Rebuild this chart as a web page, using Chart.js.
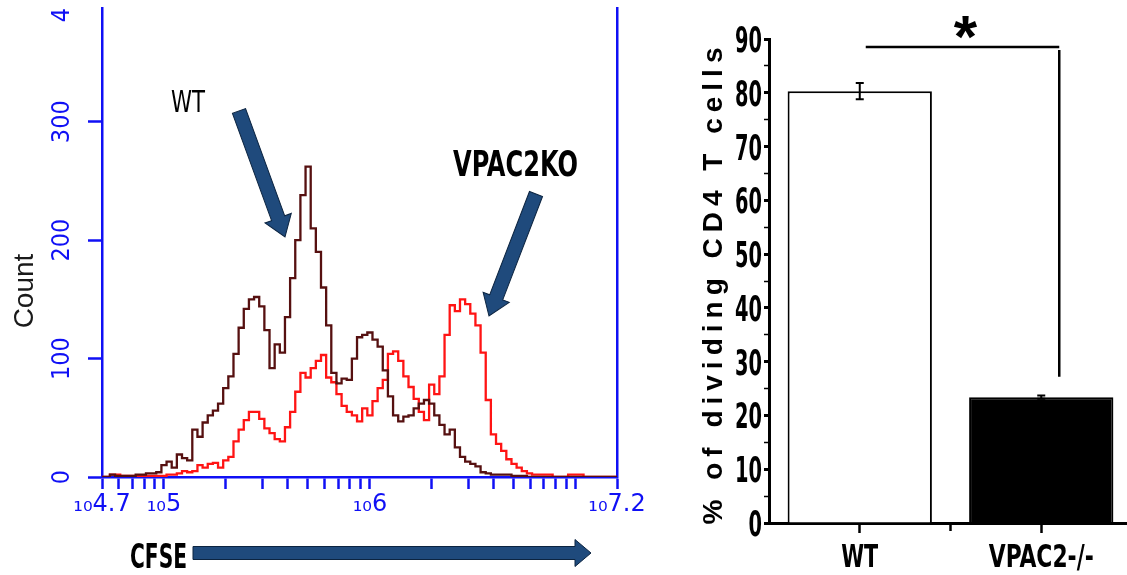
<!DOCTYPE html>
<html>
<head>
<meta charset="utf-8">
<script src="https://cdn.jsdelivr.net/npm/chart.js@4.4.1/dist/chart.umd.min.js"></script>
<style>
	html, body { margin: 0; padding: 0; background: #fff; overflow: hidden; }
	body { width: 1127px; height: 575px; position: relative; }
	#histWrap { position: absolute; left: 0; top: 0; width: 650px; height: 575px; }
	#barWrap { position: absolute; left: 680px; top: 0; width: 452px; height: 575px; }
</style>
</head>
<body>
<div id="histWrap"><canvas id="histChart"></canvas></div>
<div id="barWrap"><canvas id="barChart"></canvas></div>
<script>
// CFSE channel positions (log10 of intensity)
const cfseExponents = [
	4.700, 4.725, 4.750, 4.775, 4.800, 4.825, 4.850, 4.875, 4.900, 4.925,
	4.950, 4.975, 5.000, 5.025, 5.050, 5.075, 5.100, 5.125, 5.150, 5.175,
	5.200, 5.225, 5.250, 5.275, 5.300, 5.325, 5.350, 5.375, 5.400, 5.425,
	5.450, 5.475, 5.500, 5.525, 5.550, 5.575, 5.600, 5.625, 5.650, 5.675,
	5.700, 5.725, 5.750, 5.775, 5.800, 5.825, 5.850, 5.875, 5.900, 5.925,
	5.950, 5.975, 6.000, 6.025, 6.050, 6.075, 6.100, 6.125, 6.150, 6.175,
	6.200, 6.225, 6.250, 6.275, 6.300, 6.325, 6.350, 6.375, 6.400, 6.425,
	6.450, 6.475, 6.500, 6.525, 6.550, 6.575, 6.600, 6.625, 6.650, 6.675,
	6.700, 6.725, 6.750, 6.775, 6.800, 6.825, 6.850, 6.875, 6.900, 6.925,
	6.950, 6.975, 7.000, 7.025, 7.050, 7.075, 7.100, 7.125, 7.150, 7.175,
	7.200
];

const wtCounts = [
	0, 0, 2, 1, 1, 1, 1, 2, 2, 3,
	3, 4, 10, 13, 8, 19, 16, 14, 40, 34,
	46, 52, 56, 62, 75, 85, 104, 126, 142, 150,
	152, 144, 124, 92, 112, 105, 135, 168, 200, 238,
	262, 210, 190, 160, 128, 88, 79, 83, 82, 100,
	118, 120, 122, 116, 110, 90, 68, 52, 47, 51,
	52, 58, 62, 65, 62, 52, 44, 36, 40, 25,
	17, 13, 11, 9, 4, 3, 2, 2, 2, 2,
	1, 1, 1, 0, 0, 0, 0, 0, 0, 0,
	0, 0, 0, 0, 0, 0, 0, 0, 0, 0,
	0
];

const koCounts = [
	0, 0, 2, 2, 1, 1, 1, 1, 1, 1,
	1, 1, 1, 2, 2, 3, 5, 4, 5, 10,
	8, 11, 12, 8, 14, 17, 30, 40, 48, 55,
	55, 49, 41, 37, 32, 30, 42, 55, 72, 88,
	84, 92, 98, 103, 84, 80, 70, 60, 55, 52,
	47, 58, 52, 64, 75, 82, 104, 106, 98, 85,
	76, 66, 55, 48, 78, 70, 85, 120, 145, 140,
	150, 146, 138, 128, 105, 65, 36, 28, 22, 15,
	11, 8, 5, 3, 2, 2, 2, 2, 0, 0,
	0, 2, 2, 2, 0, 0, 0, 0, 0, 0,
	0
];

const cfseTicks = [5e4, 6e4, 7e4, 8e4, 9e4, 1e5, 2e5, 3e5, 4e5, 5e5, 6e5, 7e5, 8e5, 9e5,
	1e6, 2e6, 3e6, 4e6, 5e6, 6e6, 7e6, 8e6, 9e6, 1e7, 15848932];
const cfseTickLabels = ['₁₀4.7', '', '', '', '', '₁₀5', '', '', '', '', '', '', '', '',
	'₁₀6', '', '', '', '', '', '', '', '', '', '₁₀7.2'];
const countTicks = [0, 100, 200, 300];

// bar chart
const groups = ['WT', 'VPAC2-/-'];
const dividingPct = [80.3, 23.4];
const dividingErr = [1.5, 0.3];
const bracketTop = 88.5;
const bracketDrop = 27.2;

const BLUE = '#1010f5';
const NARROW = "'Liberation Sans Narrow', 'DejaVu Sans Condensed', 'Arial Narrow', sans-serif";

// draws text squeezed/stretched to a given width and cap height (y is the baseline)
function drawFitted(ctx, text, x, y, font, align, w, h, color) {
	ctx.save();
	ctx.font = font;
	ctx.fillStyle = color || '#000';
	ctx.textAlign = align;
	ctx.textBaseline = 'alphabetic';
	const m = ctx.measureText(text);
	ctx.translate(x, y);
	ctx.scale(w / m.width, h / m.actualBoundingBoxAscent);
	ctx.fillText(text, 0, 0);
	ctx.restore();
}

function drawBlockArrow(ctx, x1, y1, x2, y2, shaft, headW, headL) {
	const len = Math.hypot(x2 - x1, y2 - y1);
	ctx.save();
	ctx.translate(x1, y1);
	ctx.rotate(Math.atan2(y2 - y1, x2 - x1));
	ctx.beginPath();
	ctx.moveTo(0, -shaft / 2);
	ctx.lineTo(len - headL, -shaft / 2);
	ctx.lineTo(len - headL, -headW / 2);
	ctx.lineTo(len, 0);
	ctx.lineTo(len - headL, headW / 2);
	ctx.lineTo(len - headL, shaft / 2);
	ctx.lineTo(0, shaft / 2);
	ctx.closePath();
	ctx.fillStyle = '#1f4a7c';
	ctx.fill();
	ctx.strokeStyle = '#0c2440';
	ctx.lineWidth = 1;
	ctx.stroke();
	ctx.restore();
}

const histDecor = {
	id: 'histDecor',
	afterDraw(chart) {
		const ctx = chart.ctx;

		ctx.save();
		ctx.translate(33, 291);
		ctx.rotate(-Math.PI / 2);
		ctx.font = "28px 'Liberation Sans', Arial, sans-serif";
		ctx.fillStyle = '#1a1a1a';
		ctx.textAlign = 'center';
		ctx.textBaseline = 'alphabetic';
		ctx.fillText('Count', 0, 0);
		ctx.restore();

		// the top label is cut by the frame, only its first digit shows
		ctx.save();
		ctx.translate(62, 15);
		ctx.rotate(-Math.PI / 2);
		ctx.font = `25px ${NARROW}`;
		ctx.fillStyle = BLUE;
		ctx.textAlign = 'center';
		ctx.textBaseline = 'middle';
		ctx.fillText('4', 0, 0);
		ctx.restore();

		drawFitted(ctx, 'WT', 171, 112, `28px ${NARROW}`, 'left', 34, 22);
		drawFitted(ctx, 'VPAC2KO', 453, 176, `bold 30px ${NARROW}`, 'left', 125, 26);
		drawFitted(ctx, 'CFSE', 130, 568, `bold 30px ${NARROW}`, 'left', 57, 25);

		drawBlockArrow(ctx, 239, 111, 285, 237, 14, 28, 20);
		drawBlockArrow(ctx, 536, 194, 489, 316, 14, 28, 20);
		drawBlockArrow(ctx, 193, 553, 591, 553, 13, 27, 16);
	}
};

new Chart(document.getElementById('histChart'), {
	type: 'line',
	data: {
		datasets: [
			{
				label: 'WT',
				data: cfseExponents.map((e, i) => ({ x: Math.pow(10, e), y: wtCounts[i] })),
				borderColor: '#561010',
				borderWidth: 2.3,
				stepped: 'middle',
				pointRadius: 0,
				fill: false
			},
			{
				label: 'VPAC2KO',
				data: cfseExponents.map((e, i) => ({ x: Math.pow(10, e), y: koCounts[i] })),
				borderColor: '#ff1414',
				borderWidth: 2.3,
				stepped: 'middle',
				pointRadius: 0,
				fill: false
			}
		]
	},
	options: {
		responsive: true,
		maintainAspectRatio: false,
		animation: false,
		layout: { padding: { left: 0, right: 33, top: 8, bottom: 0 } },
		plugins: { legend: { display: false }, tooltip: { enabled: false } },
		scales: {
			x: {
				type: 'logarithmic',
				min: 5e4,
				max: 15848932,
				z: 1,
				afterBuildTicks: (scale) => {
					scale.ticks = cfseTicks.map((v) => ({ value: v }));
				},
				afterFit: (scale) => {
					scale.height = 98;
					scale.paddingLeft = 0;
					scale.paddingRight = 0;
				},
				ticks: {
					autoSkip: false,
					maxRotation: 0,
					minRotation: 0,
					padding: 1,
					color: BLUE,
					font: { family: "'DejaVu Sans', sans-serif", size: 24 },
					callback: (value, index) => cfseTickLabels[index]
				},
				grid: { drawOnChartArea: false, tickLength: 12, tickWidth: 2.5, tickColor: BLUE },
				border: { color: BLUE, width: 2.5 }
			},
			y: {
				min: 0,
				max: 396,
				z: 1,
				afterBuildTicks: (scale) => {
					scale.ticks = countTicks.map((v) => ({ value: v }));
				},
				afterFit: (scale) => {
					scale.width = 102;
					scale.paddingTop = 0;
					scale.paddingBottom = 0;
				},
				ticks: {
					minRotation: 90,
					maxRotation: 90,
					crossAlign: 'center',
					padding: 4,
					color: BLUE,
					font: { family: NARROW, size: 25 }
				},
				grid: { drawOnChartArea: false, tickLength: 14, tickWidth: 2.5, tickColor: BLUE },
				border: { color: BLUE, width: 2.5 }
			},
			y2: {
				position: 'right',
				min: 0,
				max: 396,
				afterFit: (scale) => {
					scale.width = 0;
					scale.paddingTop = 0;
					scale.paddingBottom = 0;
				},
				ticks: { display: false },
				grid: { display: false },
				border: { color: BLUE, width: 2.5 }
			}
		}
	},
	plugins: [histDecor]
});

const barDecor = {
	id: 'barDecor',
	afterDraw(chart) {
		const ctx = chart.ctx;
		const x = chart.scales.x;
		const y = chart.scales.y;
		const labelWidths = [37, 105];

		// y tick labels, tall condensed digits
		y.ticks.forEach((t) => {
			if (t.value % 10 !== 0) {
				return;
			}
			const text = String(t.value);
			drawFitted(ctx, text, 82, y.getPixelForValue(t.value) + 13, `bold 30px ${NARROW}`, 'right', 13.5 * text.length, 26);
		});

		groups.forEach((g, i) => {
			drawFitted(ctx, g, x.getPixelForValue(i), 567, `bold 30px ${NARROW}`, 'center', labelWidths[i], 24);
		});

		// minor tick between the two groups
		const mid = (x.getPixelForValue(0) + x.getPixelForValue(1)) / 2;
		ctx.save();
		ctx.strokeStyle = '#000';
		ctx.lineWidth = 2.5;
		ctx.beginPath();
		ctx.moveTo(mid, x.top);
		ctx.lineTo(mid, x.top + 8);
		ctx.stroke();
		ctx.restore();

		// axis title
		ctx.save();
		ctx.translate(42, 283);
		ctx.rotate(-Math.PI / 2);
		ctx.font = "bold 28px 'Liberation Sans', Arial, sans-serif";
		ctx.letterSpacing = '6px';
		ctx.fillStyle = '#000';
		ctx.textAlign = 'center';
		ctx.textBaseline = 'alphabetic';
		ctx.fillText('% of dividing CD4 T cells', 0, 0);
		ctx.restore();

		// error bars
		ctx.save();
		ctx.strokeStyle = '#000';
		ctx.lineWidth = 2;
		dividingPct.forEach((v, i) => {
			const cx = x.getPixelForValue(i);
			const top = y.getPixelForValue(v + dividingErr[i]);
			const bottom = y.getPixelForValue(v - dividingErr[i]);
			ctx.beginPath();
			ctx.moveTo(cx, top);
			ctx.lineTo(cx, bottom);
			ctx.moveTo(cx - 4, top);
			ctx.lineTo(cx + 4, top);
			ctx.moveTo(cx - 4, bottom);
			ctx.lineTo(cx + 4, bottom);
			ctx.stroke();
		});
		ctx.restore();

		// significance bracket
		const left = x.getPixelForValue(0) + 6;
		const right = x.getPixelForValue(1) + 18;
		const yTop = y.getPixelForValue(bracketTop);
		ctx.save();
		ctx.strokeStyle = '#000';
		ctx.lineWidth = 2.5;
		ctx.beginPath();
		ctx.moveTo(left, yTop);
		ctx.lineTo(right, yTop);
		ctx.moveTo(right, yTop + 3);
		ctx.lineTo(right, y.getPixelForValue(bracketDrop));
		ctx.stroke();
		ctx.restore();

		ctx.save();
		ctx.font = "bold 60px 'Liberation Sans', Arial, sans-serif";
		ctx.fillStyle = '#000';
		ctx.textAlign = 'center';
		ctx.textBaseline = 'alphabetic';
		ctx.fillText('*', (left + right) / 2 + 3, yTop + 10);
		ctx.restore();
	}
};

new Chart(document.getElementById('barChart'), {
	type: 'bar',
	data: {
		labels: groups,
		datasets: [{
			data: dividingPct,
			backgroundColor: ['#ffffff', '#000000'],
			borderColor: '#000000',
			borderWidth: 2,
			barPercentage: 0.795,
			categoryPercentage: 1
		}]
	},
	options: {
		responsive: true,
		maintainAspectRatio: false,
		animation: false,
		layout: { padding: { left: 0, right: 0, top: 39, bottom: 0 } },
		plugins: { legend: { display: false }, tooltip: { enabled: false } },
		scales: {
			x: {
				afterFit: (scale) => {
					scale.height = 52;
					scale.paddingLeft = 0;
					scale.paddingRight = 0;
				},
				ticks: { display: false },
				grid: { offset: false, drawOnChartArea: false, tickLength: 10, tickWidth: 2.5, tickColor: '#000' },
				border: { color: '#000', width: 3 }
			},
			y: {
				min: 0,
				max: 90,
				afterFit: (scale) => {
					scale.width = 89;
					scale.paddingTop = 0;
					scale.paddingBottom = 0;
				},
				ticks: { stepSize: 5, display: false },
				grid: {
					drawOnChartArea: false,
					tickLength: 5,
					tickColor: '#000',
					tickWidth: (c) => (c.tick && c.tick.value % 10 === 0 ? 3 : 1.5)
				},
				border: { color: '#000', width: 3 }
			}
		}
	},
	plugins: [barDecor]
});
</script>
</body>
</html>
